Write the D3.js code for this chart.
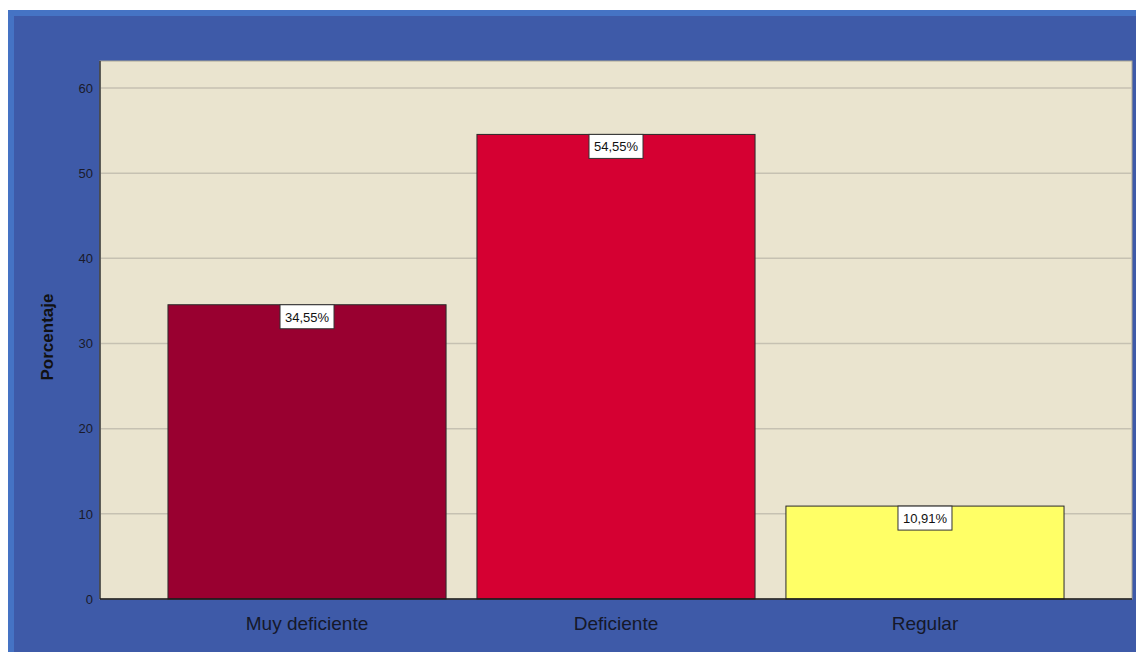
<!DOCTYPE html>
<html><head><meta charset="utf-8">
<script src="https://cdn.jsdelivr.net/npm/d3@7"></script>
<style>body{margin:0;background:#fff;}svg{display:block;}</style>
</head><body>
<script>
const categories = ["Muy deficiente", "Deficiente", "Regular"];
const values = [34.55, 54.55, 10.91];
const valueLabels = ["34,55%", "54,55%", "10,91%"];
const barColors = ["#990030", "#D50032", "#FFFF66"];
const yTicks = [0, 10, 20, 30, 40, 50, 60];
const yTitle = "Porcentaje";

const W = 1136, H = 652;
const svg = d3.select("body").append("svg").attr("width", W).attr("height", H);

// frame
svg.append("rect").attr("x", 8).attr("y", 10).attr("width", W - 8).attr("height", H - 10).attr("fill", "#3E5AA8");
svg.append("rect").attr("x", 8).attr("y", 10).attr("width", W - 8).attr("height", 6).attr("fill", "#4573C4");
svg.append("rect").attr("x", 8).attr("y", 10).attr("width", 6).attr("height", H - 10).attr("fill", "#4573C4");

const L = 100, R = 1132, T = 61, B = 599;
const y = d3.scaleLinear().domain([0, 60]).range([B, 88]);
const x = d3.scaleBand().domain(categories).range([L, R]).paddingInner(0.1).paddingOuter(0.22);

svg.append("rect").attr("x", L).attr("y", T).attr("width", R - L).attr("height", B - T)
  .attr("fill", "#EAE4CF").attr("stroke", "#A9A596").attr("stroke-width", 1);

// grid
svg.append("g").selectAll("line").data(yTicks.filter(d => d > 0)).join("line")
  .attr("x1", L).attr("x2", R).attr("y1", d => y(d)).attr("y2", d => y(d))
  .attr("stroke", "#C6C1B2").attr("stroke-width", 1.5);

// y axis
const ya = svg.append("g").attr("transform", `translate(${L},0)`)
  .call(d3.axisLeft(y).tickValues(yTicks).tickSize(0).tickSizeOuter(0).tickPadding(7));
ya.select(".domain").remove();
ya.selectAll("text").attr("font-family", "Liberation Sans, Arial, sans-serif").attr("font-size", 13).attr("fill", "#1a1a2a");
svg.append("line").attr("x1", L).attr("x2", L).attr("y1", T).attr("y2", B).attr("stroke", "#3a3a3a").attr("stroke-width", 1.5);

// bars
svg.append("g").selectAll("rect").data(values).join("rect")
  .attr("x", (d, i) => x(categories[i])).attr("y", d => y(d))
  .attr("width", x.bandwidth()).attr("height", d => B - y(d))
  .attr("fill", (d, i) => barColors[i]).attr("stroke", "#2a2a2a").attr("stroke-width", 1);

// x baseline
svg.append("line").attr("x1", L).attr("x2", R).attr("y1", B).attr("y2", B).attr("stroke", "#1a1a1a").attr("stroke-width", 1.5);

// value labels
const lg = svg.append("g").selectAll("g").data(values).join("g")
  .attr("transform", (d, i) => `translate(${x(categories[i]) + x.bandwidth() / 2},${y(d)})`);
lg.append("rect").attr("x", -27).attr("y", 0).attr("width", 54).attr("height", 24)
  .attr("fill", "#fff").attr("stroke", "#333").attr("stroke-width", 1);
lg.append("text").attr("y", 17).attr("text-anchor", "middle")
  .attr("font-family", "Liberation Sans, Arial, sans-serif").attr("font-size", 13).attr("fill", "#111")
  .text((d, i) => valueLabels[i]);

// category labels
svg.append("g").selectAll("text").data(categories).join("text")
  .attr("x", d => x(d) + x.bandwidth() / 2).attr("y", 630).attr("text-anchor", "middle")
  .attr("font-family", "Liberation Sans, Arial, sans-serif").attr("font-size", 19).attr("fill", "#15182a")
  .text(d => d);

// y title
svg.append("text").attr("transform", `translate(53,${(T + B) / 2 + 7}) rotate(-90)`).attr("text-anchor", "middle")
  .attr("font-family", "Liberation Sans, Arial, sans-serif").attr("font-size", 17).attr("font-weight", "bold").attr("fill", "#111")
  .text(yTitle);
</script>
</body></html>
